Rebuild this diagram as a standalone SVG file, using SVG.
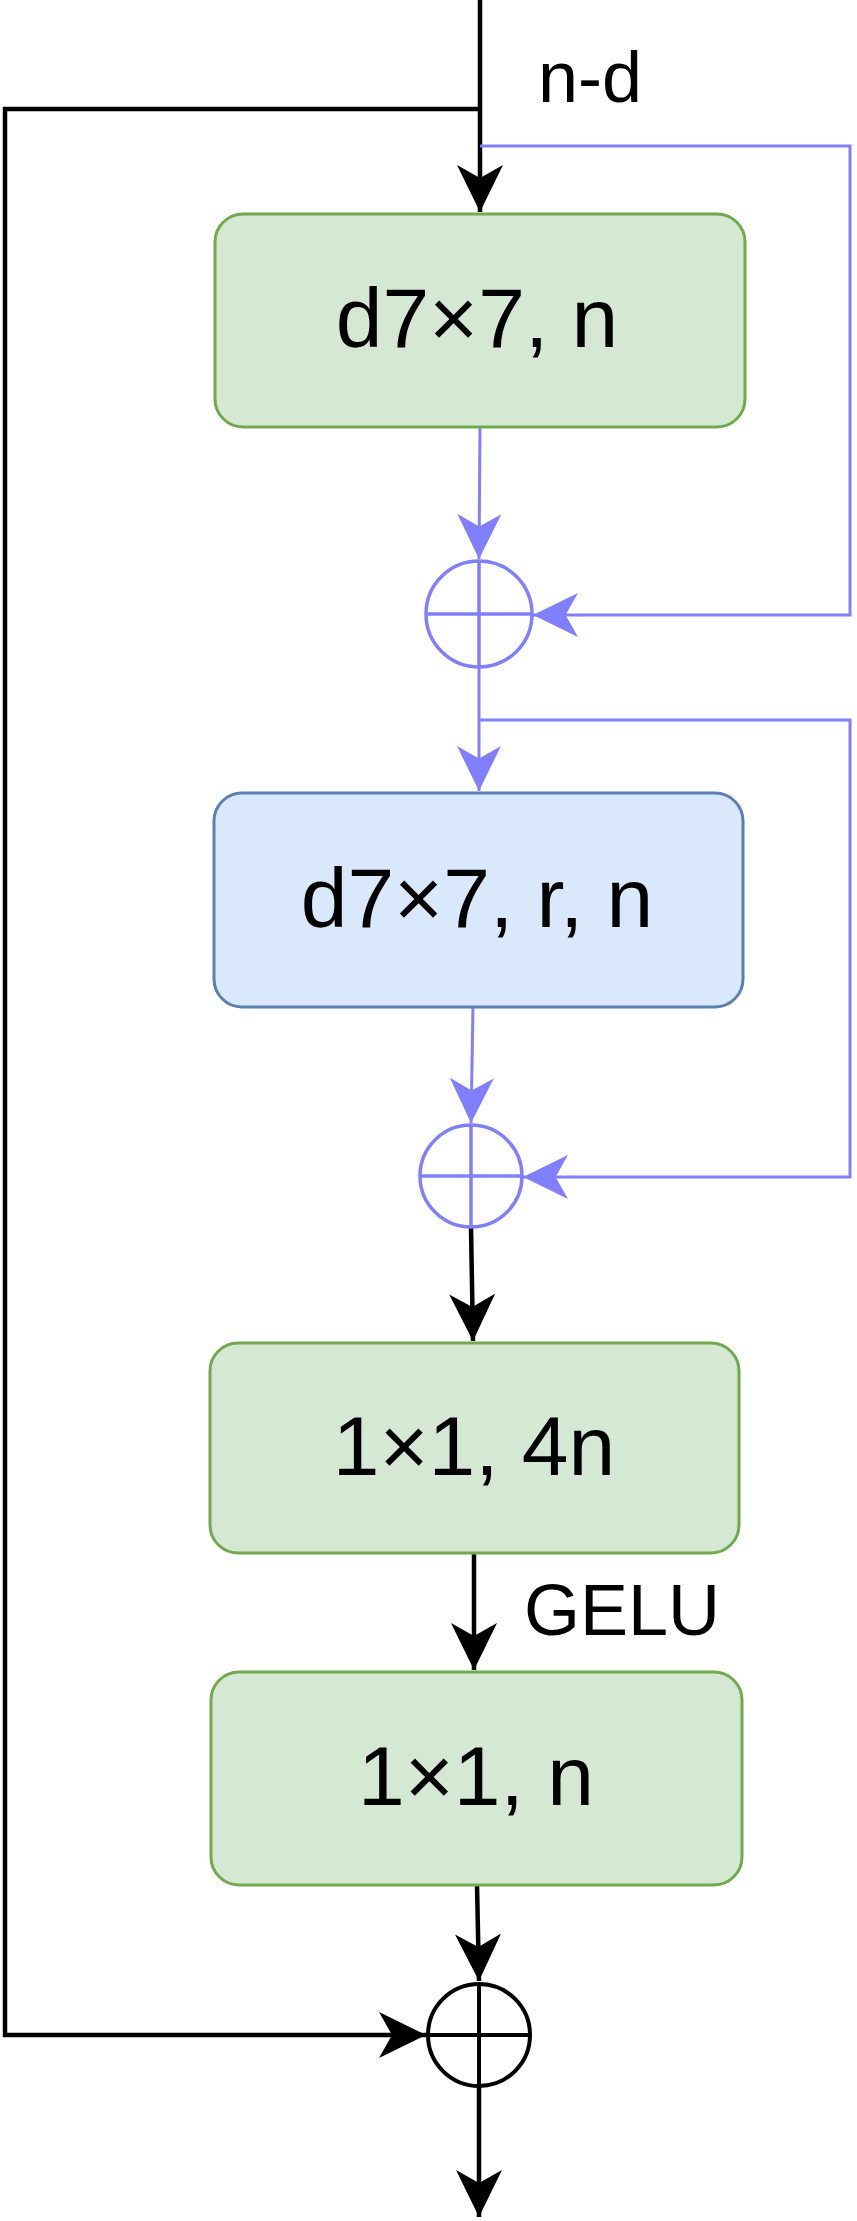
<svg xmlns="http://www.w3.org/2000/svg" width="857" height="2221" viewBox="0 0 857 2221">
  <style>
    .box-g { fill: #d5e8d4; stroke: #72a94d; stroke-width: 3; }
    .box-b { fill: #dae8fc; stroke: #5b7fb3; stroke-width: 3; }
    .lbl { font-family: "Liberation Sans", Arial, sans-serif; font-size: 84px; fill: #000; text-anchor: middle; }
    .edge-lbl { font-family: "Liberation Sans", Arial, sans-serif; font-size: 72px; fill: #000; }
    .blk { fill: none; stroke: #000; stroke-width: 4.5; }
    .blu { fill: none; stroke: #8080ff; stroke-width: 3; }
    .sum-k { fill: none; stroke: #000; stroke-width: 4; }
    .sum-b { fill: none; stroke: #8080ff; stroke-width: 3.5; }
  </style>
  <defs>
    <marker id="ak" viewBox="0 0 47 46" refX="47" refY="23" markerWidth="47" markerHeight="46" markerUnits="userSpaceOnUse" orient="auto">
      <path d="M47,23 L0,0 L13,23 L0,46 Z" fill="#000"/>
    </marker>
    <marker id="ab" viewBox="0 0 47 46" refX="47" refY="23" markerWidth="45" markerHeight="45" markerUnits="userSpaceOnUse" orient="auto">
      <path d="M47,23 L0,0 L13,23 L0,46 Z" fill="#8080ff"/>
    </marker>
  </defs>
  <rect width="857" height="2221" fill="#fff"/>

  <g id="connectors">
    <path class="blk" d="M480,0 L480,212" marker-end="url(#ak)"/>
    <path class="blk" d="M480,109 L5,109 L5,2035 L426,2035" marker-end="url(#ak)"/>
    <path class="blu" d="M480,146 L850,146 L850,615 L533,615" marker-end="url(#ab)"/>
    <path class="blu" d="M480,427 L479,559" marker-end="url(#ab)"/>
    <path class="blu" d="M479,667 L479,791" marker-end="url(#ab)"/>
    <path class="blu" d="M479,720 L850,720 L850,1177 L523,1177" marker-end="url(#ab)"/>
    <path class="blu" d="M473,1007 L471,1123" marker-end="url(#ab)"/>
    <path class="blk" d="M471,1227 L473,1341" marker-end="url(#ak)"/>
    <path class="blk" d="M474,1553 L474,1670" marker-end="url(#ak)"/>
    <path class="blk" d="M477,1885 L479,1981" marker-end="url(#ak)"/>
    <path class="blk" d="M479,2087 L479,2217" marker-end="url(#ak)"/>
    <text class="edge-lbl" x="538" y="102">n-d</text>
    <text class="edge-lbl" x="524" y="1635">GELU</text>
  </g>

  <g id="node-d7x7-n">
    <rect class="box-g" x="215" y="214" width="530" height="213" rx="28" ry="28"/>
    <text class="lbl" x="477" y="347">d7×7, n</text>
  </g>

  <g id="sum-1">
    <circle class="sum-b" cx="479" cy="614" r="53"/>
    <line class="sum-b" x1="426" y1="614" x2="532" y2="614"/>
    <line class="sum-b" x1="479" y1="561" x2="479" y2="667"/>
  </g>

  <g id="node-d7x7-r-n">
    <rect class="box-b" x="214" y="793" width="529" height="214" rx="28" ry="28"/>
    <text class="lbl" x="477" y="927">d7×7, r, n</text>
  </g>

  <g id="sum-2">
    <circle class="sum-b" cx="471" cy="1176" r="51"/>
    <line class="sum-b" x1="420" y1="1176" x2="522" y2="1176"/>
    <line class="sum-b" x1="471" y1="1125" x2="471" y2="1227"/>
  </g>

  <g id="node-1x1-4n">
    <rect class="box-g" x="210" y="1343" width="529" height="210" rx="28" ry="28"/>
    <text class="lbl" x="474" y="1475">1×1, 4n</text>
  </g>

  <g id="node-1x1-n">
    <rect class="box-g" x="211" y="1672" width="531" height="213" rx="28" ry="28"/>
    <text class="lbl" x="476" y="1805">1×1, n</text>
  </g>

  <g id="sum-3">
    <circle class="sum-k" cx="479" cy="2035" r="51"/>
    <line class="sum-k" x1="428" y1="2035" x2="530" y2="2035"/>
    <line class="sum-k" x1="479" y1="1984" x2="479" y2="2086"/>
  </g>
</svg>
